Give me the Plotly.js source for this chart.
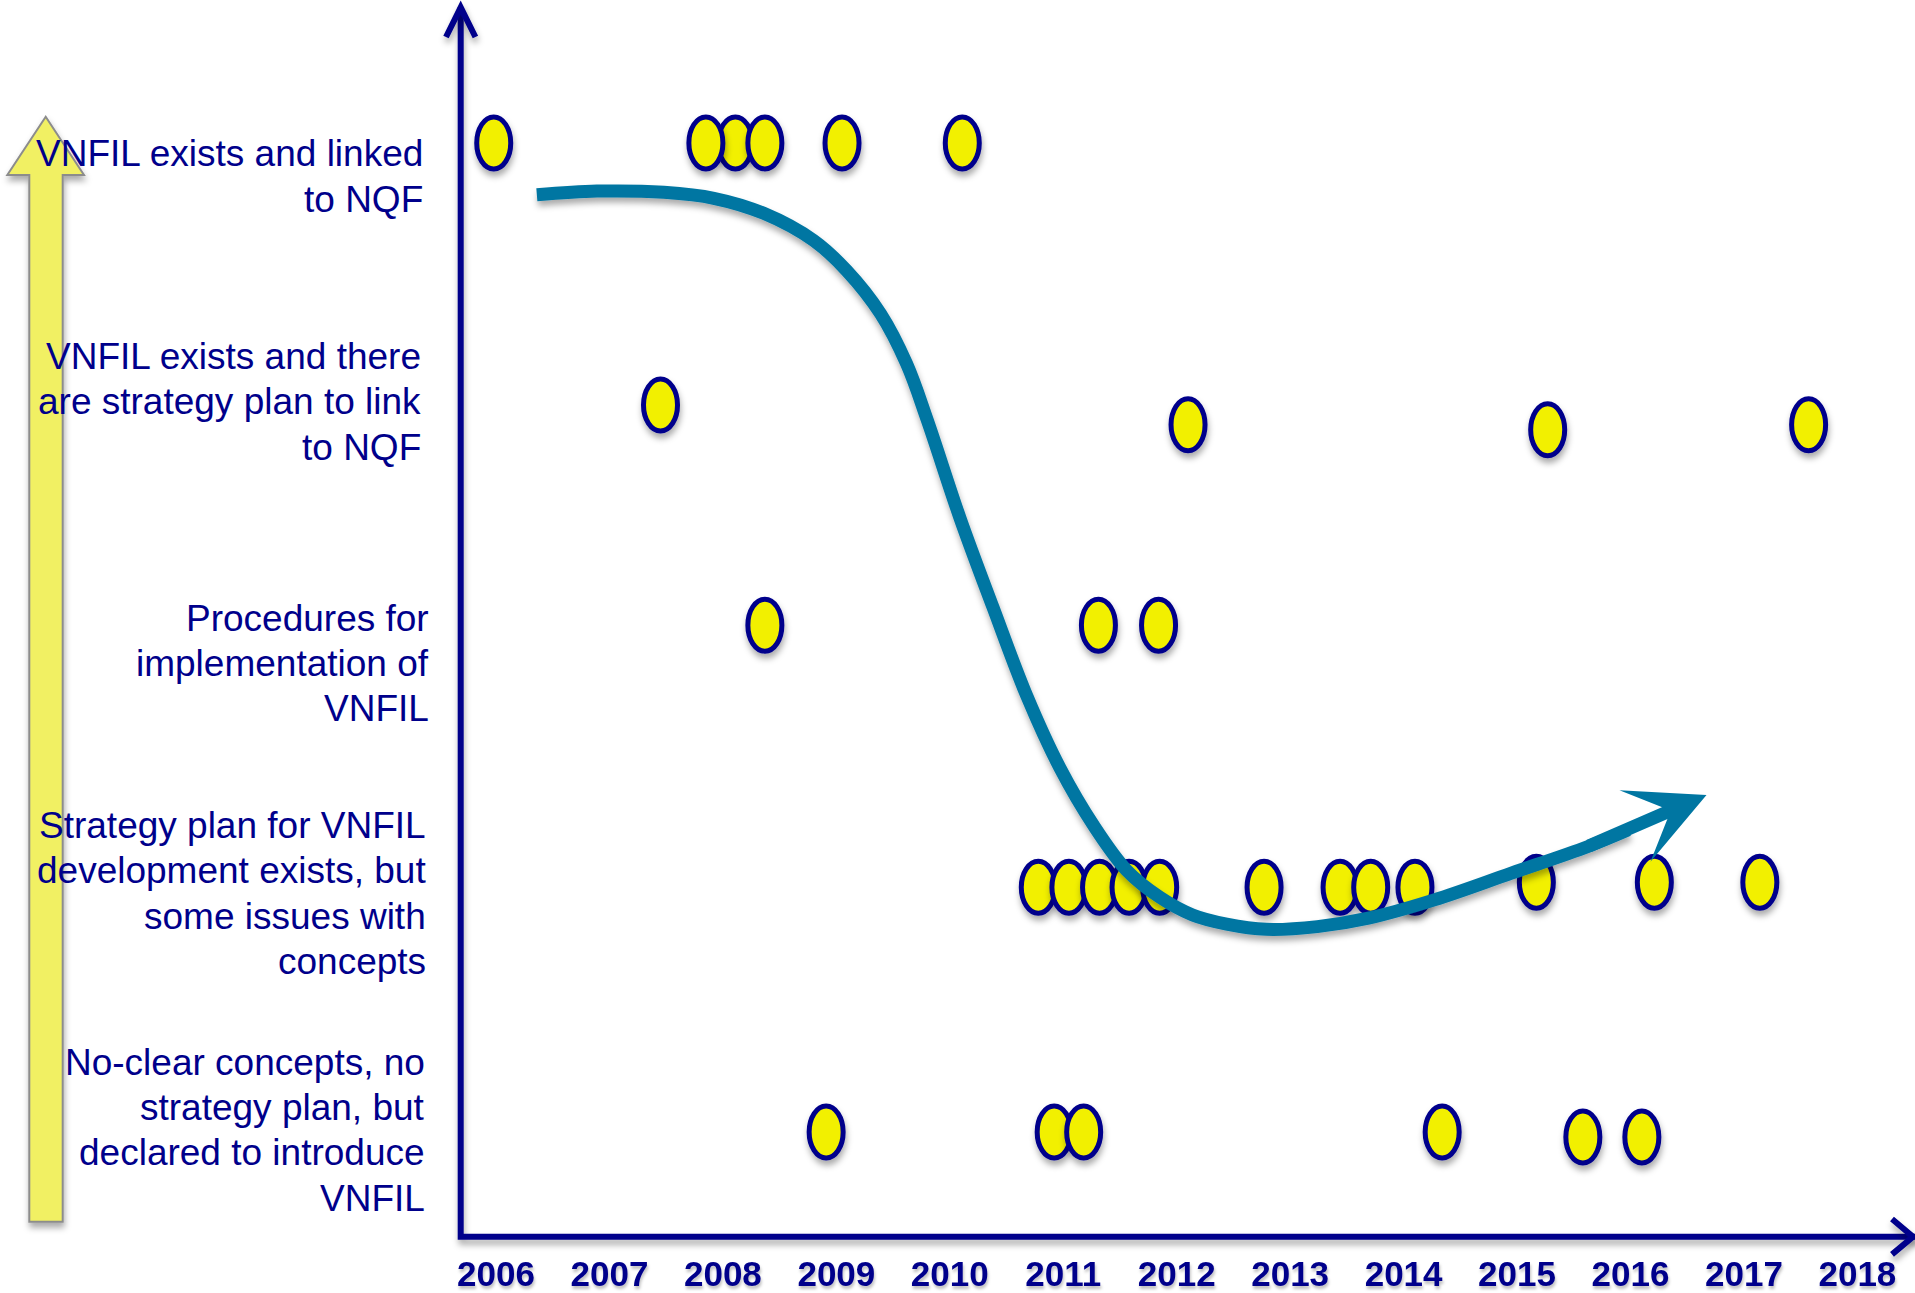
<!DOCTYPE html>
<html>
<head>
<meta charset="utf-8">
<script src="https://cdn.plot.ly/plotly-3.0.1.min.js"></script>
<style>
  html, body { margin: 0; padding: 0; background: #ffffff; }
  #chart { width: 1915px; height: 1293px; }
</style>
</head>
<body>
<!-- soft drop shadows used by the shapes, the trend line and the year labels -->
<svg width="0" height="0" style="position:absolute">
  <defs>
    <filter id="softShadow" filterUnits="userSpaceOnUse" x="-3000" y="-3000" width="8000" height="8000">
      <feDropShadow dx="1" dy="5" stdDeviation="3" flood-color="#000000" flood-opacity="0.33"/>
    </filter>
    <filter id="textShadow" filterUnits="userSpaceOnUse" x="-3000" y="-3000" width="8000" height="8000">
      <feDropShadow dx="1" dy="3" stdDeviation="1.5" flood-color="#000000" flood-opacity="0.25"/>
    </filter>
  </defs>
</svg>
<div id="chart"></div>
<script>
// Years on the time axis
const years = [2006, 2007, 2008, 2009, 2010, 2011, 2012, 2013, 2014, 2015, 2016, 2017, 2018];

// Development levels of VNFIL, from the lowest (1) to the highest (5)
const levelNames = [
  ["No-clear concepts, no", "strategy plan, but", "declared to introduce", "VNFIL"],
  ["Strategy plan for VNFIL", "development exists, but", "some issues with", "concepts"],
  ["Procedures for", "implementation of", "VNFIL"],
  ["VNFIL exists and there", "are strategy plan to link", "to NQF"],
  ["VNFIL exists and linked", "to NQF"]
];

// Countries: year and level reached
const pointYear = [
  2005.98, 2008.11, 2007.85, 2008.37, 2009.05, 2010.11,
  2007.45, 2012.10, 2015.27, 2017.57,
  2008.37, 2011.31, 2011.84,
  2010.78, 2011.05, 2011.32, 2011.58, 2011.85, 2012.77, 2013.44, 2013.71, 2014.10, 2015.17, 2016.21, 2017.14,
  2008.91, 2010.92, 2011.18, 2014.34, 2015.58, 2016.10
];
const pointLevel = [
  5.00, 5.00, 5.00, 5.00, 5.00, 5.00,
  3.94, 3.86, 3.84, 3.86,
  3.05, 3.05, 3.05,
  1.99, 1.99, 1.99, 1.99, 1.99, 1.99, 1.99, 1.99, 1.99, 2.01, 2.01, 2.01,
  1.00, 1.00, 1.00, 1.00, 0.98, 0.98
];

// Overall trend; the last point is the arrow tip
const trendYear = [
  2006.36, 2006.89, 2007.48, 2007.92, 2008.36, 2008.80, 2009.09, 2009.39, 2009.62, 2009.80,
  2010.09, 2010.38, 2010.68, 2010.97, 2011.27, 2011.56, 2011.85, 2012.14, 2012.44, 2012.79,
  2013.24, 2013.69, 2014.27, 2014.95, 2015.62, 2015.98, 2016.67
];
const trendLevel = [
  4.79, 4.805, 4.80, 4.776, 4.715, 4.605, 4.484, 4.309, 4.106, 3.881,
  3.483, 3.123, 2.762, 2.473, 2.238, 2.058, 1.950, 1.878, 1.841, 1.820,
  1.831, 1.865, 1.939, 2.047, 2.154, 2.222, 2.363
];

const FONT = 'Liberation Sans, Arial, Helvetica, sans-serif';
const NAVY = '#00008B';
const TEAL = '#0076A2';
const YELLOW = '#F2F000';

// vertical middle of each level's caption (axis units) and its right edge (px from the left of the page)
const captionMid = [1.007, 1.965, 2.896, 3.953, 4.864];
const captionRight = [427, 428, 431, 423, 425];
const captionGap = 45.2;
const plotLeft = 460;

const nTrend = trendYear.length;

const data = [
  {
    type: 'scatter', mode: 'markers',
    x: pointYear, y: pointLevel,
    marker: { size: 34, color: YELLOW, opacity: 0 },
    hovertemplate: '%{x:.1f}<extra></extra>'
  },
  {
    type: 'scatter', mode: 'lines',
    x: trendYear.slice(0, nTrend - 1), y: trendLevel.slice(0, nTrend - 1),
    line: { color: TEAL, width: 13, shape: 'spline', smoothing: 1 },
    hoverinfo: 'skip'
  }
];

// country markers: upright ellipses anchored on each point
const ellipseShapes = pointYear.map((yr, i) => ({
  type: 'circle', layer: 'below',
  xref: 'x', yref: 'y',
  xsizemode: 'pixel', ysizemode: 'pixel',
  xanchor: yr, yanchor: pointLevel[i],
  x0: -17, x1: 17, y0: -26, y1: 26,
  fillcolor: YELLOW,
  line: { color: NAVY, width: 5 }
}));

// paper-anchored decorations, in pixels from the bottom-left corner of the plot
const frame = (path, extra) => Object.assign({
  type: 'path', layer: 'above',
  xref: 'paper', yref: 'paper',
  xsizemode: 'pixel', ysizemode: 'pixel',
  xanchor: 0, yanchor: 0,
  path: path
}, extra);

const decoShapes = [
  // yellow "higher level" arrow at the far left
  frame('M-414.3,1120.3 L-376,1062 L-397.3,1062 L-397.3,15.3 L-430.7,15.3 L-430.7,1062 L-452.7,1062 Z',
        { layer: 'below', fillcolor: '#F1F064', line: { color: '#8C8C8C', width: 2 } }),
  // axes
  frame('M0.7,1229.7 L0.7,0.3 L1458,0.3', { line: { color: NAVY, width: 6 } }),
  frame('M-14,1200 L0.7,1229.7 L15.4,1200', { line: { color: NAVY, width: 6 } }),
  frame('M1432,18 L1453,0.3 L1432,-17.4', { line: { color: NAVY, width: 6 } })
];

const captionAnnotations = [];
levelNames.forEach((lines, k) => {
  const n = lines.length;
  lines.forEach((txt, i) => {
    captionAnnotations.push({
      xref: 'paper', x: 0, xanchor: 'right', xshift: captionRight[k] - plotLeft,
      yref: 'y', y: captionMid[k], yanchor: 'middle', yshift: -(i - (n - 1) / 2) * captionGap,
      text: txt, showarrow: false, align: 'right',
      font: { family: FONT, size: 37, color: NAVY }
    });
  });
});

// arrow head closing the trend line (starts a little back so it overlaps the curve)
const trendArrow = {
  xref: 'x', yref: 'y', axref: 'x', ayref: 'y',
  x: trendYear[nTrend - 1], y: trendLevel[nTrend - 1],
  ax: trendYear[nTrend - 3], ay: trendLevel[nTrend - 3],
  text: '', showarrow: true,
  arrowhead: 3, arrowsize: 1.0, arrowwidth: 13, arrowcolor: TEAL, standoff: 0
};

const layout = {
  width: 1915, height: 1293,
  margin: { l: plotLeft, r: 0, t: 0, b: 56, pad: 0 },
  paper_bgcolor: '#ffffff', plot_bgcolor: 'rgba(0,0,0,0)',
  showlegend: false,
  hovermode: 'closest',
  xaxis: {
    range: [2005.6827, 2018.5077],
    tickvals: years, ticktext: years.map(String),
    tickfont: { family: FONT, size: 35, color: NAVY, weight: 'bold' },
    ticks: '', ticklabelstandoff: 13,
    showgrid: false, zeroline: false, showline: false, fixedrange: true
  },
  yaxis: {
    range: [0.5758, 5.5778],
    showticklabels: false, ticks: '',
    showgrid: false, zeroline: false, showline: false, fixedrange: true
  },
  shapes: ellipseShapes.concat(decoShapes),
  annotations: captionAnnotations.concat([trendArrow])
};

Plotly.newPlot('chart', data, layout, { displayModeBar: false }).then(gd => {
  gd.querySelectorAll('.shapelayer path').forEach(p => p.setAttribute('filter', 'url(#softShadow)'));
  gd.querySelectorAll('.scatterlayer path.js-line').forEach(p => p.setAttribute('filter', 'url(#softShadow)'));
  gd.querySelectorAll('.xtick text').forEach(t => t.setAttribute('filter', 'url(#textShadow)'));
});
</script>
</body>
</html>
